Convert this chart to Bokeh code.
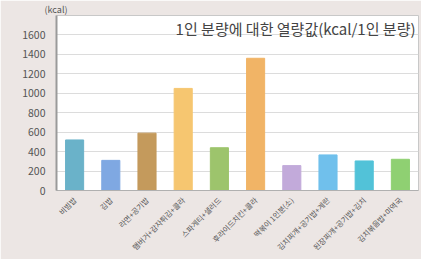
from bokeh.plotting import figure
from bokeh.models import Label, Range1d, FixedTicker
from bokeh.embed import file_html
from bokeh.resources import INLINE
import math

categories = ["비빔밥", "김밥", "라면+공기밥", "햄버거+감자튀김+콜라", "스파게티+샐러드",
              "후라이드치킨+콜라", "떡볶이 1인분(소)", "김치찌개+공기밥+계란",
              "된장찌개+공기밥+김치", "김치볶음밥+미역국"]
values = [520, 310, 590, 1050, 440, 1360, 256, 366, 304, 321]
colors = ["#6ab2c9", "#7fa8e2", "#c49a5c", "#f6c670", "#9dc46c",
          "#f1b466", "#c2aada", "#70c0ec", "#52c2d8", "#8fd072"]
y_ticks = [0, 200, 400, 600, 800, 1000, 1200, 1400, 1600]
title_text = "1인 분량에 대한 열량값(kcal/1인 분량)"
unit_text = "(kcal)"

FONT = "Noto Sans CJK KR"

p = figure(x_range=categories, y_range=Range1d(0, 1800), width=421, height=259,
           output_backend="svg", toolbar_location=None,
           min_border_left=56, min_border_right=3, min_border_top=10, min_border_bottom=60)
p.border_fill_color = "#ece6e4"
p.background_fill_color = "white"
p.outline_line_color = "#c8c8c8"

p.title.text = unit_text
p.title.align = "left"
p.title.offset = -12
p.title.standoff = 0
p.title.text_font = FONT
p.title.text_font_size = "9px"
p.title.text_font_style = "normal"
p.title.text_color = "#555555"

p.vbar(x=categories, top=values, width=0.5, color=colors)

p.yaxis.ticker = FixedTicker(ticks=y_ticks)
p.yaxis.major_tick_line_color = None
p.yaxis.minor_tick_line_color = None
p.yaxis.axis_line_color = "#9a9a9a"
p.yaxis.axis_line_width = 2
p.yaxis.major_label_text_font = FONT
p.yaxis.major_label_text_font_size = "10.5px"
p.yaxis.major_label_text_color = "#555555"
p.yaxis.major_label_standoff = 5

p.xaxis.major_tick_line_color = None
p.xaxis.minor_tick_line_color = None
p.xaxis.axis_line_color = "#b0b0b0"
p.xaxis.major_label_orientation = math.pi / 4
p.xaxis.major_label_text_font = FONT
p.xaxis.major_label_text_font_size = "7.5px"
p.xaxis.major_label_text_color = "#555555"
p.xaxis.major_label_standoff = 2

p.xgrid.grid_line_color = None
p.ygrid.grid_line_color = "#dcdcdc"

p.add_layout(Label(x=10, y=1665, x_offset=-3, text=title_text, text_align="right",
                   text_baseline="middle", text_font=FONT, text_font_size="15px",
                   text_color="#444444"))

open("out.html", "w").write(file_html(p, INLINE))
